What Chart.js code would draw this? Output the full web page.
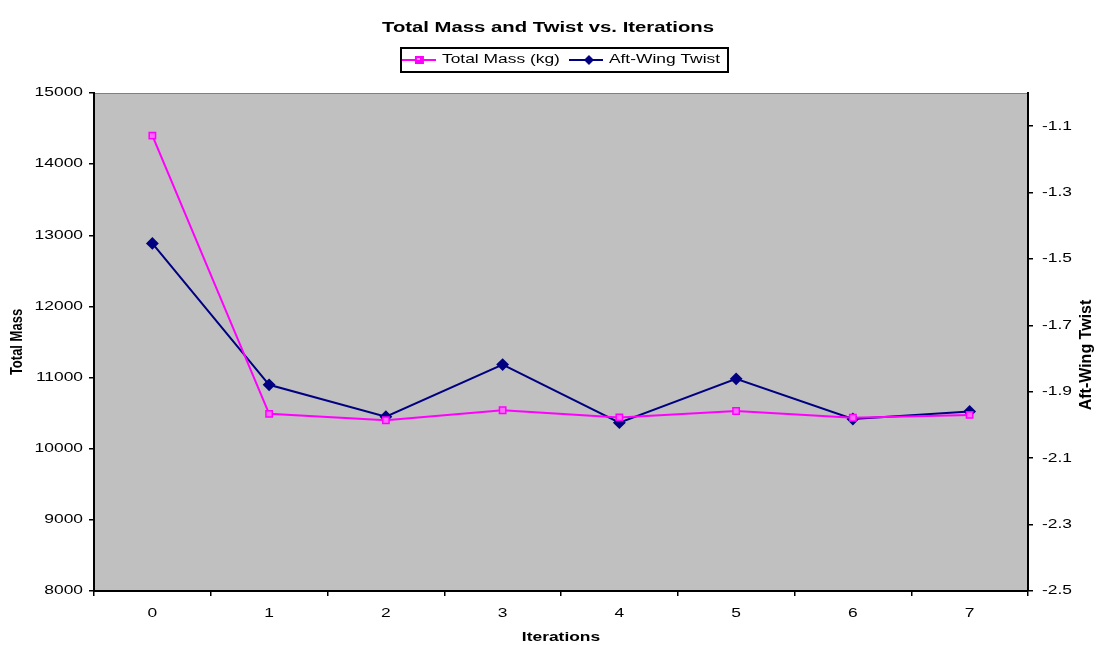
<!DOCTYPE html>
<html>
<head>
<meta charset="utf-8">
<script src="https://cdn.jsdelivr.net/npm/chart.js@4.4.1/dist/chart.umd.min.js"></script>
<style>
  html, body { margin: 0; padding: 0; background: #ffffff; }
  #wrap { width: 1096px; height: 645px; }
</style>
</head>
<body>
<div id="wrap"><canvas id="c" width="1096" height="645"></canvas></div>
<script>
// ---- data ----
const iterations = ['0', '1', '2', '3', '4', '5', '6', '7'];
const totalMass = [14400, 10490, 10400, 10540, 10440, 10530, 10435, 10475];
const aftWingTwist = [-1.453, -1.879, -1.975, -1.818, -1.993, -1.861, -1.982, -1.959];
const massTicks = [8000, 9000, 10000, 11000, 12000, 13000, 14000, 15000];
const twistTicks = [-2.5, -2.3, -2.1, -1.9, -1.7, -1.5, -1.3, -1.1];

const FONT = '"Liberation Sans", Arial, Helvetica, sans-serif';
const PINK = '#FF00FF';
const NAVY = '#000080';

// The reference's text is wide on screen: stretch glyphs in screen-x around their anchor.
const canvas = document.getElementById('c');
const ctx2d = canvas.getContext('2d');
const KX = 1.45;
const KX_ROT = 1.3;
const origFill = ctx2d.fillText.bind(ctx2d);
const origMeasure = ctx2d.measureText.bind(ctx2d);
function isRotated(T) { return Math.abs(T.b) > 1e-6 || Math.abs(T.c) > 1e-6; }
ctx2d.fillText = function (text, x, y, mw) {
  const T = this.getTransform();
  const k = isRotated(T) ? KX_ROT : KX;
  const px = T.a * x + T.c * y + T.e;
  const S = new DOMMatrix([k, 0, 0, 1, px * (1 - k), 0]);
  this.save();
  this.setTransform(S.multiply(T));
  if (mw === undefined) origFill(text, x, y); else origFill(text, x, y, mw);
  this.restore();
};
ctx2d.measureText = function (text) {
  const m = origMeasure(text);
  const k = isRotated(this.getTransform()) ? 1 : KX;
  return {
    width: m.width * k,
    actualBoundingBoxLeft: m.actualBoundingBoxLeft * k,
    actualBoundingBoxRight: m.actualBoundingBoxRight * k,
    actualBoundingBoxAscent: m.actualBoundingBoxAscent,
    actualBoundingBoxDescent: m.actualBoundingBoxDescent,
    fontBoundingBoxAscent: m.fontBoundingBoxAscent,
    fontBoundingBoxDescent: m.fontBoundingBoxDescent
  };
};

function legendIcon(color, kind) {
  const c = document.createElement('canvas');
  c.width = 34; c.height = 12;
  const g = c.getContext('2d');
  g.strokeStyle = color; g.lineWidth = 2;
  g.beginPath(); g.moveTo(0, 6); g.lineTo(34, 6); g.stroke();
  g.fillStyle = color;
  if (kind === 'rect') {
    g.fillRect(13, 2, 9, 8);
    g.fillStyle = '#ff99ff';
    g.fillRect(15, 4, 3, 2);
  } else {
    g.beginPath(); g.moveTo(20, 1); g.lineTo(25, 6); g.lineTo(20, 11); g.lineTo(15, 6); g.closePath(); g.fill();
  }
  return c;
}
const icons = [legendIcon(PINK, 'rect'), legendIcon(NAVY, 'diamond')];

const plotDecor = {
  id: 'plotDecor',
  beforeDraw(chart) {
    const a = chart.chartArea, ctx = chart.ctx;
    ctx.save();
    ctx.fillStyle = '#C0C0C0';
    ctx.fillRect(a.left, a.top, a.right - a.left, a.bottom - a.top);
    ctx.strokeStyle = '#808080';
    ctx.lineWidth = 1;
    ctx.strokeRect(a.left + 0.5, a.top + 0.5, a.right - a.left - 1, a.bottom - a.top - 1);
    ctx.restore();
  },
  afterDraw(chart) {
    const ctx = chart.ctx;
    const lg = chart.legend;
    if (lg && lg.legendHitBoxes && lg.legendHitBoxes.length) {
      let l = Infinity, r = -Infinity, t = Infinity, b = -Infinity;
      lg.legendHitBoxes.forEach(h => {
        l = Math.min(l, h.left); r = Math.max(r, h.left + h.width);
        t = Math.min(t, h.top); b = Math.max(b, h.top + h.height);
      });
      ctx.save();
      ctx.strokeStyle = '#000000';
      ctx.lineWidth = 2;
      ctx.strokeRect(Math.round(l) - 1, Math.round(t) - 6, Math.round(r - l) + 9, Math.round(b - t) + 12);
      ctx.restore();
    }
    // right axis title, reading bottom-to-top
    ctx.save();
    ctx.fillStyle = '#000000';
    ctx.font = 'bold 16px ' + FONT;
    ctx.textAlign = 'center';
    ctx.textBaseline = 'middle';
    ctx.translate(1087, 355);
    ctx.rotate(-Math.PI / 2);
    origFill('Aft-Wing Twist', 0, 0);
    ctx.restore();
  }
};

new Chart(ctx2d, {
  type: 'line',
  data: {
    labels: iterations,
    datasets: [
      {
        label: 'Total Mass (kg)',
        data: totalMass,
        yAxisID: 'y',
        borderColor: PINK,
        backgroundColor: PINK,
        borderWidth: 2,
        pointStyle: 'rect',
        pointRadius: 4.5,
        pointBorderColor: PINK,
        pointBackgroundColor: '#ff66ff',
        pointBorderWidth: 1.5,
        tension: 0
      },
      {
        label: 'Aft-Wing Twist',
        data: aftWingTwist,
        yAxisID: 'y2',
        borderColor: NAVY,
        backgroundColor: NAVY,
        borderWidth: 2,
        pointStyle: 'rectRot',
        pointRadius: 5,
        pointBorderColor: NAVY,
        pointBackgroundColor: NAVY,
        tension: 0
      }
    ]
  },
  options: {
    responsive: false,
    animation: false,
    devicePixelRatio: 1,
    layout: { padding: { left: 0, right: 0, top: 0, bottom: 0 } },
    plugins: {
      title: {
        display: true,
        text: 'Total Mass and Twist vs. Iterations',
        color: '#000000',
        font: { family: FONT, size: 14, weight: 'bold' },
        padding: { top: 19.6, bottom: 8.6 }
      },
      subtitle: {
        display: true,
        text: '',
        weight: 500,
        font: { family: FONT, size: 1 },
        padding: { top: 0, bottom: 15.8 }
      },
      legend: {
        display: true,
        fullSize: false,
        labels: {
          color: '#000000',
          font: { family: FONT, size: 12 },
          usePointStyle: true,
          pointStyleWidth: 34,
          padding: 9,
          generateLabels(chart) {
            return chart.data.datasets.map((ds, i) => ({
              text: ds.label,
              pointStyle: icons[i],
              fillStyle: ds.borderColor,
              strokeStyle: ds.borderColor,
              lineWidth: 0,
              hidden: false,
              datasetIndex: i,
              fontColor: '#000000'
            }));
          }
        }
      },
      tooltip: { enabled: false }
    },
    scales: {
      x: {
        type: 'category',
        offset: true,
        title: { display: true, text: 'Iterations', color: '#000000', font: { family: FONT, size: 12, weight: 'bold' }, padding: { top: 1, bottom: 0 } },
        grid: { display: true, offset: true, drawOnChartArea: false, drawTicks: true, tickLength: 5, color: '#000000', lineWidth: 1.5 },
        border: { display: true, color: '#000000', width: 2 },
        ticks: { color: '#000000', font: { family: FONT, size: 12 }, padding: 10, maxRotation: 0 },
        afterFit(s) { s.height = 54; }
      },
      y: {
        type: 'linear',
        position: 'left',
        min: 8000,
        max: 15000,
        afterBuildTicks(s) { s.ticks = massTicks.map(v => ({ value: v })); },
        title: { display: true, text: 'Total Mass', color: '#000000', font: { family: FONT, size: 13, weight: 'bold' }, padding: { top: 10, bottom: 4 } },
        grid: { display: true, drawOnChartArea: false, drawTicks: true, tickLength: 5, color: '#000000', lineWidth: 1.5 },
        border: { display: true, color: '#000000', width: 2 },
        ticks: { color: '#000000', font: { family: FONT, size: 12 }, padding: 6, callback: v => String(v) },
        afterFit(s) { s.width = 94; }
      },
      y2: {
        type: 'linear',
        position: 'right',
        min: -2.5,
        max: -1.0,
        afterBuildTicks(s) { s.ticks = twistTicks.map(v => ({ value: v })); },
        title: { display: false },
        grid: { display: true, drawOnChartArea: false, drawTicks: true, tickLength: 5, color: '#000000', lineWidth: 1.5 },
        border: { display: true, color: '#000000', width: 2 },
        ticks: { color: '#000000', font: { family: FONT, size: 12 }, padding: 9, callback: v => Number(v).toFixed(1) },
        afterFit(s) { s.width = 68; }
      }
    }
  },
  plugins: [plotDecor]
});
</script>
</body>
</html>
